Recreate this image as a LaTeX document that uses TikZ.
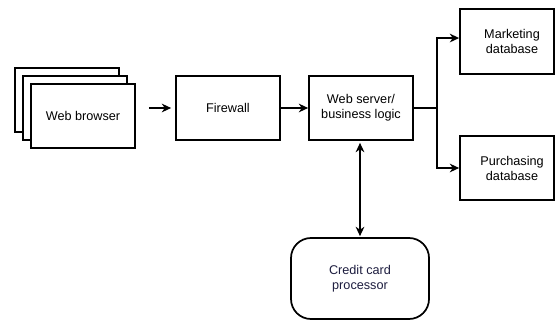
\documentclass[tikz,border=0pt]{standalone}
\usepackage{fontspec}
\setmainfont{Liberation Sans}
\usetikzlibrary{arrows.meta}
\definecolor{ccText}{RGB}{30,30,64}
\begin{document}
\begin{tikzpicture}[x=0.75pt,y=-0.75pt,
  box/.style={draw, line width=1.3pt, fill=white, minimum width=78pt, minimum height=48pt,
    inner sep=0pt, align=center, font=\fontsize{9.5pt}{11.25pt}\selectfont},
  arr/.style={line width=1.2pt, -{Stealth[length=7pt,width=6.5pt,inset=2.2pt]}},
  darr/.style={line width=1.2pt, {Stealth[length=7pt,width=6.5pt,inset=2.2pt]}-{Stealth[length=7pt,width=6.5pt,inset=2.2pt]}},
  ln/.style={line width=1.2pt}]
\useasboundingbox (0,0) rectangle (555,320);
% browser stack
\node[box] (b1) at (67,100) {};
\node[box] (b2) at (75,108) {};
\node[box] (b3) at (83,116) {Web browser};
\node[box] (fw) at (228,108) {Firewall};
\node[box] (ws) at (361,108) {Web server/\\business logic};
\node[box, minimum width=70.5pt, minimum height=48.75pt] (mkt) at (507,41.5) {\hspace*{7.5pt}Marketing\\\hspace*{7.5pt}database};
\node[box, minimum width=70.5pt] (pur) at (507,168) {\hspace*{7.5pt}Purchasing\\\hspace*{7.5pt}database};
\node[box, minimum width=103.5pt, minimum height=60.75pt, rounded corners=15pt, text=ccText] (cc) at (360,278.5) {Credit card\\processor};
% connectors
\draw[arr, shorten <=9.75pt, shorten >=3pt] (b3.east |- fw.west) -- (fw.west);
\draw[arr] (fw.east) -- (ws.west);
\draw[ln] (ws.east) -- ++(23,0) coordinate (j);
\draw[arr] (j) |- ([yshift=2.6pt]mkt.west);
\draw[arr] (j) |- (pur.west);
\draw[darr, shorten <=0.75pt, shorten >=1.5pt] (cc.north -| 360,0) -- (ws.south -| 360,0);
\end{tikzpicture}
\end{document}
